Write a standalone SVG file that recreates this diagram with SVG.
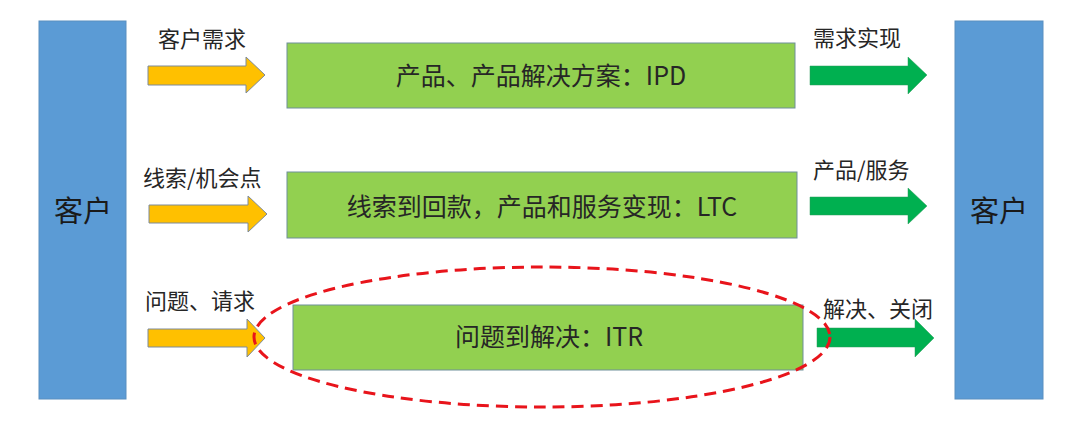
<svg xmlns="http://www.w3.org/2000/svg" width="1080" height="425" viewBox="0 0 1080 425">
<style>
.cust{fill:#5B9BD5;stroke:#5a8fc0;stroke-width:1}
.box{fill:#92D050;stroke:#6f8f9a;stroke-width:1}
.in{fill:#FFC000;stroke:#7d8a9a;stroke-width:1}
.out{fill:#00B050;stroke:#2a9a5a;stroke-width:0.5}
.lbl{font-family:"Noto Sans CJK SC","Liberation Sans",sans-serif;font-size:22px;fill:#262626}
.bt{font-family:"Noto Sans CJK SC","Liberation Sans",sans-serif;font-size:25px;fill:#262626;text-anchor:middle}
.ct{font-family:"Noto Sans CJK SC","Liberation Sans",sans-serif;font-size:29px;fill:#1a1a1a;text-anchor:middle}
</style>
<rect width="1080" height="425" fill="#ffffff"/>
<g id="customer-left"><rect class="cust" x="39" y="21" width="87" height="378"/><text class="ct" x="83" y="222">客户</text></g>
<g id="customer-right"><rect class="cust" x="955" y="21" width="88" height="378"/><text class="ct" x="999" y="222">客户</text></g>
<g id="ipd"><rect class="box" x="287" y="43" width="508" height="65"/><text class="bt" x="541" y="85">产品、产品解决方案：IPD</text></g>
<g id="ltc"><rect class="box" x="287" y="172" width="510" height="66"/><text class="bt" x="542" y="216">线索到回款，产品和服务变现：LTC</text></g>
<g id="itr"><rect class="box" x="293" y="305" width="510" height="65"/><text class="bt" x="549" y="346">问题到解决：ITR</text></g>
<g id="connectors">
<polygon class="in" points="148,66 246,66 246,57 265,75 246,93 246,85 148,85"/>
<polygon class="in" points="149,205 248,205 248,196 267,214 248,232 248,223 149,223"/>
<polygon class="in" points="148,329 247,329 247,319 265,338 247,357 247,347 148,347"/>
<polygon class="out" points="810,66 908,66 908,57 927,75 908,94 908,85 810,85"/>
<polygon class="out" points="810,197 908,197 908,188 927,206 908,224 908,215 810,215"/>
<polygon class="out" points="817,328 915,328 915,319 934,338 915,357 915,347 817,347"/>
<ellipse cx="542" cy="337" rx="288" ry="70" fill="none" stroke="#E8141B" stroke-width="3" stroke-dasharray="12,7"/>
</g>
<g id="labels">
<text class="lbl" x="158" y="47">客户需求</text>
<text class="lbl" x="813" y="46">需求实现</text>
<text class="lbl" x="143" y="186">线索/机会点</text>
<text class="lbl" x="813" y="178">产品/服务</text>
<text class="lbl" x="145" y="309">问题、请求</text>
<text class="lbl" x="823" y="317">解决、关闭</text>
</g>
</svg>
